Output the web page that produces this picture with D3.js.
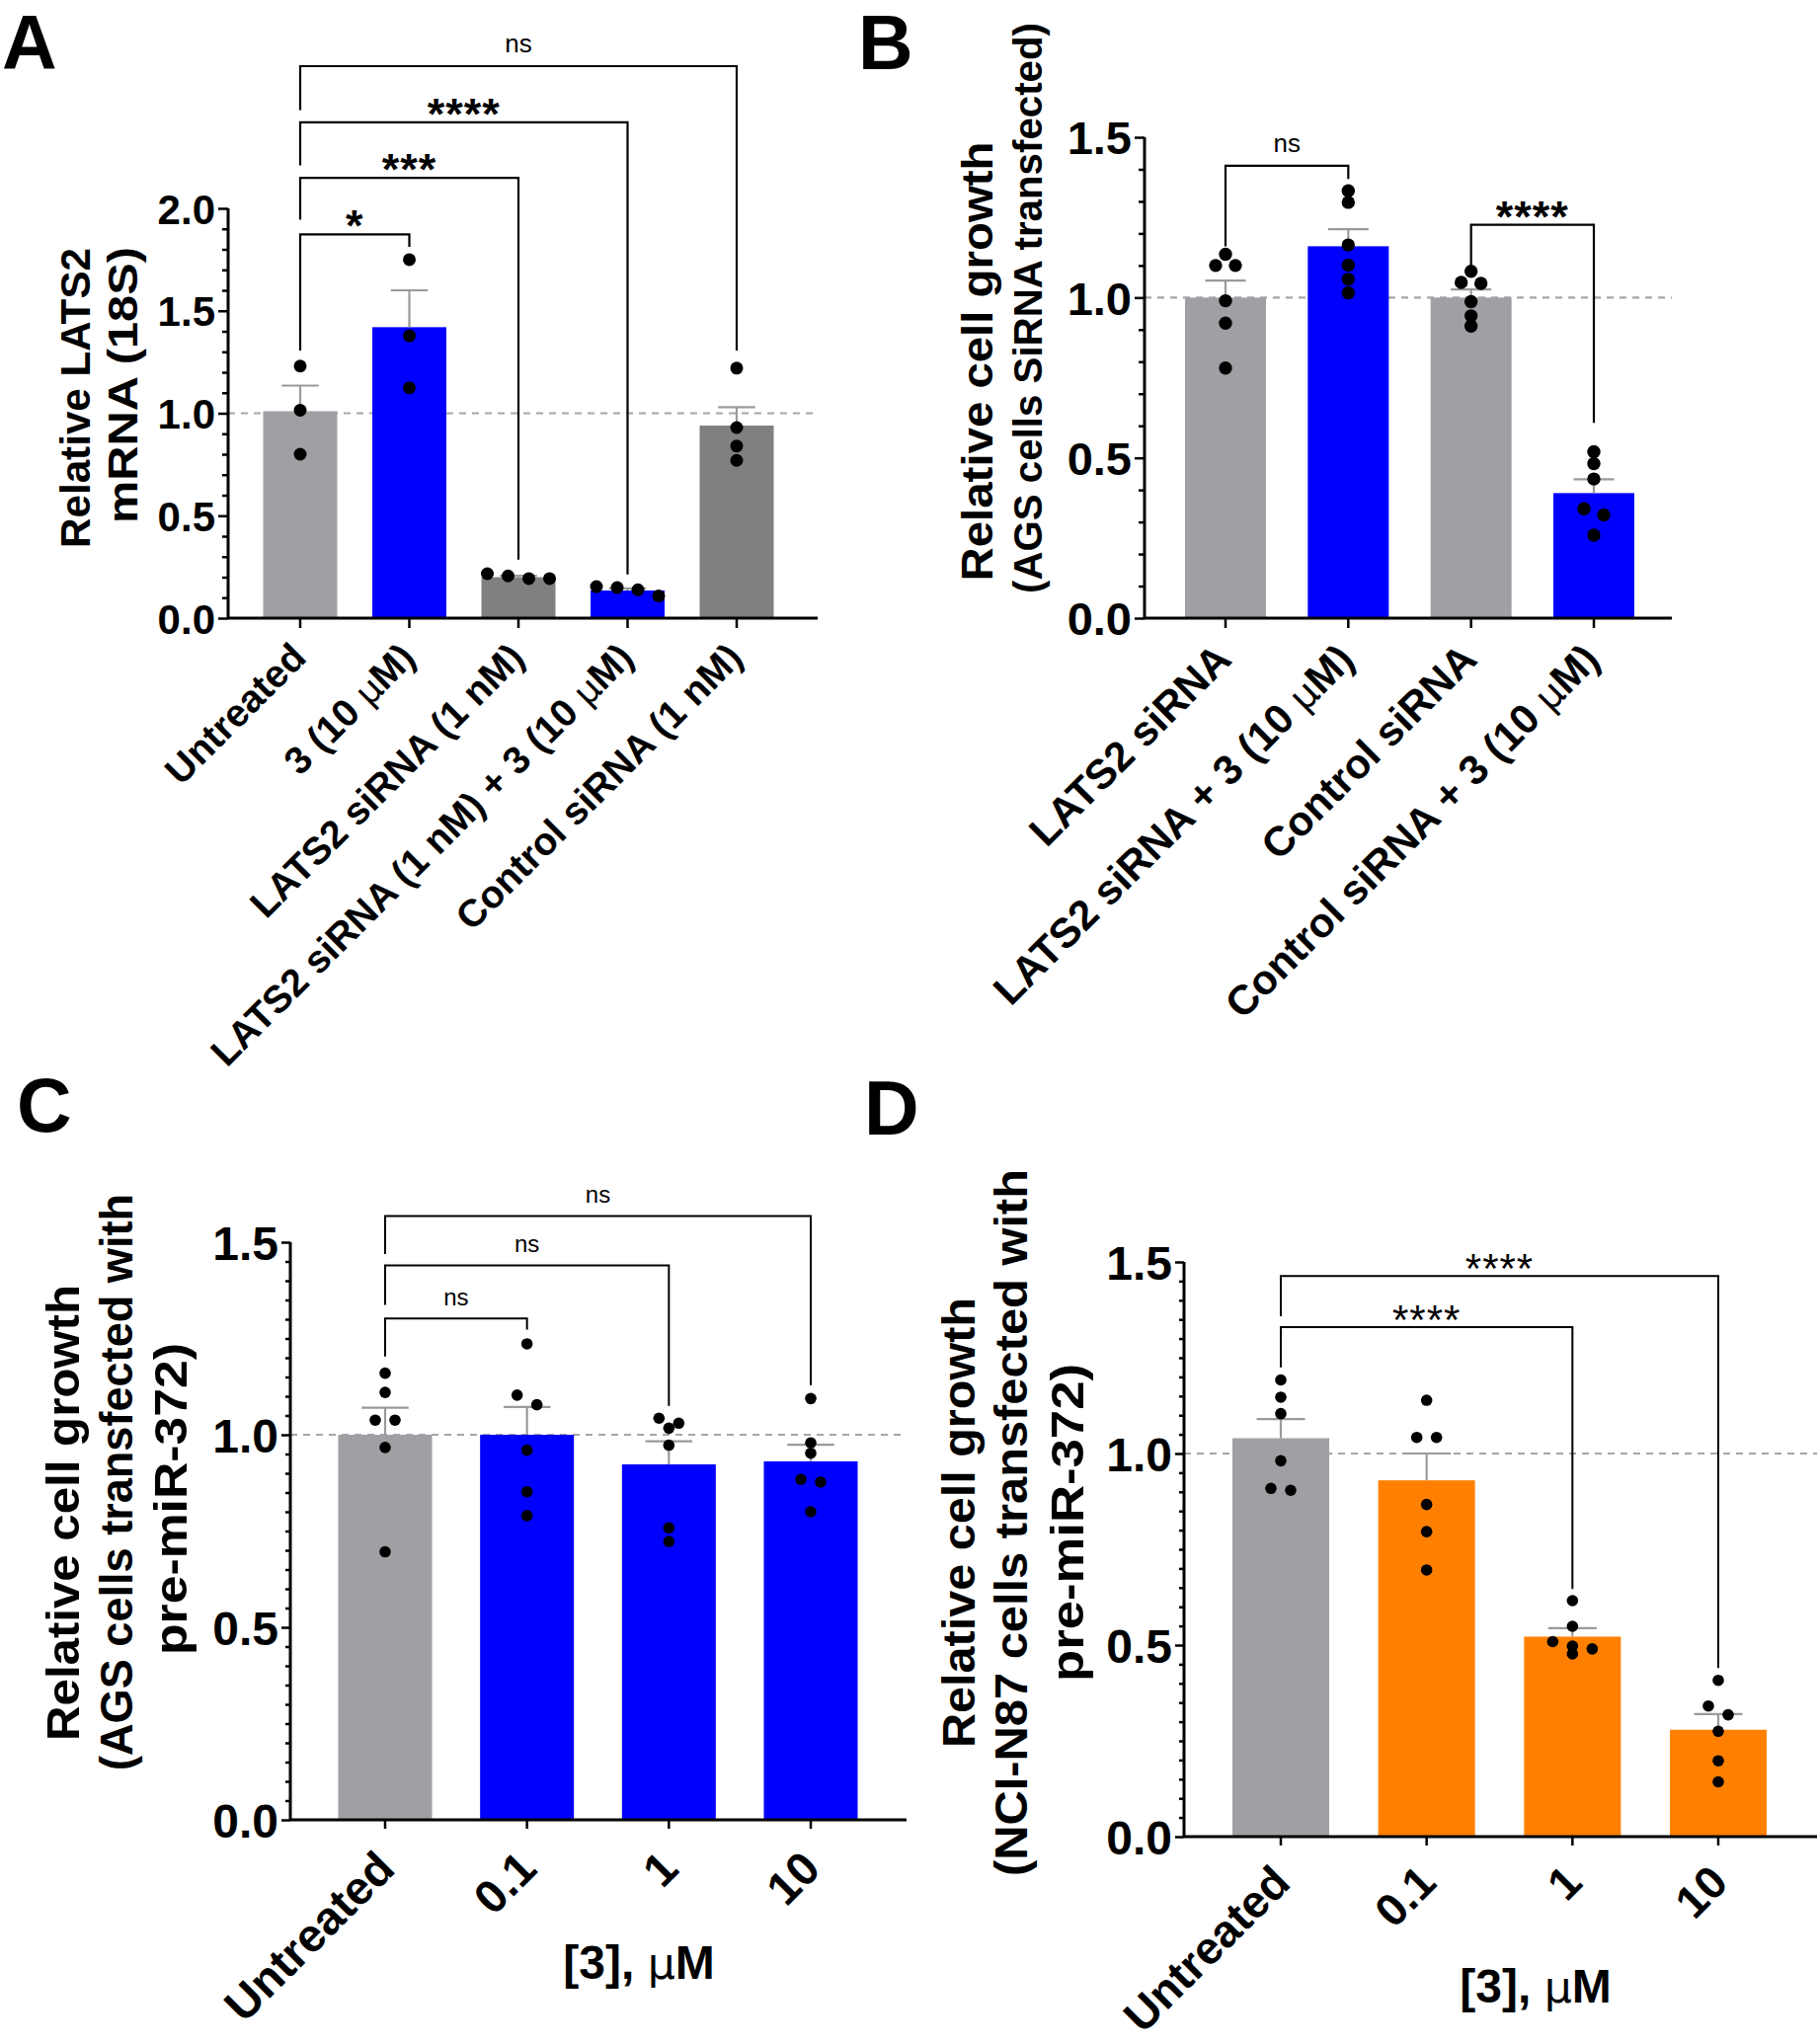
<!DOCTYPE html>
<html><head><meta charset="utf-8">
<script src="https://cdn.jsdelivr.net/npm/d3@7"></script>
<style>
body{margin:0;background:#fff}
svg text{font-family:"Liberation Sans", Arial, sans-serif}
</style></head>
<body><svg id="fig" width="1842" height="2070"></svg>
<script>
// ---------------- DATA ----------------
const catsA = ["Untreated", "3 (10 µM)", "LATS2 siRNA (1 nM)", "LATS2 siRNA (1 nM) + 3 (10 µM)", "Control siRNA (1 nM)"];
const meanA = [1.01, 1.42, 0.20, 0.135, 0.94];
const semA  = [0.125, 0.18, 0.007, 0.01, 0.09];
const ptsA  = [[1.23, 1.015, 0.80], [1.75, 1.378, 1.124], [0.193, 0.217, 0.193, 0.206], [0.108, 0.154, 0.138, 0.149], [1.22, 0.93, 0.84, 0.77]];
const colA  = ["#a0a0a4", "#0000ff", "#808080", "#0000ff", "#808080"];
const sigA  = [
  {from: 0, to: 1, level: 1.873, leftEnd: 1.306, rightEnd: 1.812, label: "*"},
  {from: 0, to: 2, level: 2.149, leftEnd: 1.944, rightEnd: 0.286, label: "***"},
  {from: 0, to: 3, level: 2.42,  leftEnd: 2.21,  rightEnd: 0.213, label: "****"},
  {from: 0, to: 4, level: 2.694, leftEnd: 2.48,  rightEnd: 1.306, label: "ns"}
];

const catsB = ["LATS2 siRNA", "LATS2 siRNA + 3 (10 µM)", "Control siRNA", "Control siRNA + 3 (10 µM)"];
const meanB = [1.00, 1.16, 1.00, 0.39];
const semB  = [0.053, 0.053, 0.025, 0.043];
const ptsB  = [[1.135, 1.10, 1.10, 0.99, 0.92, 0.78], [1.333, 1.297, 1.164, 1.101, 1.057, 1.015], [1.082, 1.047, 1.044, 0.987, 0.943, 0.911], [0.519, 0.482, 0.434, 0.341, 0.322, 0.259]];
const colB  = ["#a0a0a4", "#0000ff", "#a0a0a4", "#0000ff"];
const sigB  = [
  {from: 0, to: 1, level: 1.411, leftEnd: 1.16, rightEnd: 1.37, label: "ns"},
  {from: 2, to: 3, level: 1.227, leftEnd: 1.08, rightEnd: 0.609, label: "****"}
];

const catsC = ["Untreated", "0.1", "1", "10"];
const meanC = [1.00, 1.00, 0.923, 0.931];
const semC  = [0.07, 0.072, 0.06, 0.043];
const ptsC  = [[1.16, 1.11, 1.038, 1.038, 0.967, 0.696], [1.236, 1.103, 1.078, 0.96, 0.852, 0.79], [1.043, 1.03, 1.017, 0.973, 0.758, 0.723], [1.094, 0.979, 0.952, 0.884, 0.877, 0.80]];
const colC  = ["#a0a0a4", "#0000ff", "#0000ff", "#0000ff"];
const sigC  = [
  {from: 0, to: 1, level: 1.302, leftEnd: 1.203, rightEnd: 1.273, label: "ns"},
  {from: 0, to: 2, level: 1.440, leftEnd: 1.337, rightEnd: 1.075, label: "ns"},
  {from: 0, to: 3, level: 1.568, leftEnd: 1.469, rightEnd: 1.129, label: "ns"}
];

const catsD = ["Untreated", "0.1", "1", "10"];
const meanD = [1.04, 0.93, 0.522, 0.279];
const semD  = [0.05, 0.07, 0.022, 0.041];
const ptsD  = [[1.192, 1.147, 1.104, 0.981, 0.909, 0.904], [1.139, 1.042, 1.042, 0.867, 0.796, 0.696], [0.616, 0.549, 0.509, 0.497, 0.490, 0.477], [0.408, 0.341, 0.318, 0.275, 0.198, 0.143]];
const colD  = ["#a0a0a4", "#ff8000", "#ff8000", "#ff8000"];
const sigD  = [
  {from: 0, to: 2, level: 1.33,  leftEnd: 1.225, rightEnd: 0.646, label: "****"},
  {from: 0, to: 3, level: 1.463, leftEnd: 1.358, rightEnd: 0.44,  label: "****"}
];

const majorTicksA = [0, 0.5, 1.0, 1.5, 2.0];
const majorTicksBCD = [0, 0.5, 1.0, 1.5];

// ---------------- DRAWING ----------------
const svg = d3.select("#fig");

function swarm(vals, y, step, rowH) {
  const sorted = vals.slice().sort((a, b) => b - a);
  const rows = [];
  sorted.forEach(v => {
    const last = rows[rows.length - 1];
    if (last && (y(v) - y(last[0])) < rowH) last.push(v); else rows.push([v]);
  });
  const out = [];
  rows.forEach(row => row.forEach((v, i) => out.push({v, dx: (i - (row.length - 1) / 2) * step})));
  return out;
}

function addLabelText(sel, label) {
  const parts = label.split("µ");
  parts.forEach((p, i) => {
    if (i > 0) sel.append("tspan").attr("font-weight", "normal").attr("font-family", "DejaVu Sans, sans-serif").attr("font-size", "0.92em").text("µ");
    sel.append("tspan").text(p);
  });
}

function panel(o) {
  const g = svg.append("g");
  const y = d3.scaleLinear().domain([0, o.yMax]).range([o.y0, o.yTop]);
  const n = o.cats.length;
  const step = (o.c1 - o.c0) / (n - 1);
  const pad = 1 - o.bw / step;
  const x = d3.scaleBand().domain(o.cats).range([o.c0 - step / 2, o.c1 + step / 2]).paddingInner(pad).paddingOuter(pad / 2);
  const cx = c => x(c) + x.bandwidth() / 2;

  // reference dashed line
  g.append("line").attr("x1", o.x0).attr("x2", o.xEnd).attr("y1", y(1)).attr("y2", y(1))
    .attr("stroke", "#a6a6a6").attr("stroke-width", 2.2).attr("stroke-dasharray", "7,6");

  // bars
  g.selectAll("rect.bar").data(o.cats).join("rect")
    .attr("x", c => x(c)).attr("width", x.bandwidth())
    .attr("y", (c, i) => y(o.mean[i])).attr("height", (c, i) => o.y0 - y(o.mean[i]))
    .attr("fill", (c, i) => o.col[i]);

  // error bars (SEM, upper)
  const cap = x.bandwidth() / 4;
  o.cats.forEach((c, i) => {
    const top = y(o.mean[i] + o.sem[i]);
    g.append("line").attr("x1", cx(c)).attr("x2", cx(c)).attr("y1", y(o.mean[i])).attr("y2", top)
      .attr("stroke", "#9a9a9a").attr("stroke-width", 2.2);
    g.append("line").attr("x1", cx(c) - cap).attr("x2", cx(c) + cap).attr("y1", top).attr("y2", top)
      .attr("stroke", "#9a9a9a").attr("stroke-width", 2.2);
  });

  // points
  o.cats.forEach((c, i) => {
    const sw = swarm(o.pts[i], y, o.dotStep, 10);
    g.selectAll(null).data(sw).join("circle")
      .attr("cx", d => cx(c) + d.dx).attr("cy", d => y(d.v)).attr("r", o.r).attr("fill", "#000");
  });

  // y axis
  const minorVals = d3.range(0, o.yMax + 1e-9, o.minor).filter(v => Math.abs(v / 0.5 - Math.round(v / 0.5)) > 1e-6);
  g.append("g").attr("transform", `translate(${o.x0},0)`)
    .call(d3.axisLeft(y).tickValues(minorVals).tickSize(o.minorLen).tickFormat(""))
    .call(a => a.select(".domain").remove())
    .call(a => a.selectAll("line").attr("stroke", "#000").attr("stroke-width", 2.5));
  const ya = g.append("g").attr("transform", `translate(${o.x0},0)`)
    .call(d3.axisLeft(y).tickValues(o.major).tickSize(o.majorLen).tickPadding(3).tickFormat(d3.format(".1f")));
  ya.select(".domain").attr("stroke", "#000").attr("stroke-width", 3).attr("d", `M0,${o.y0}V${o.yTop}`);
  ya.selectAll("line").attr("stroke", "#000").attr("stroke-width", 2.5);
  ya.selectAll("text").attr("font-size", o.tickFont).attr("font-weight", "bold").attr("fill", "#000")
    .attr("font-family", "Liberation Sans, Arial, sans-serif").attr("dy", "0.36em");

  // x axis
  const xa = g.append("g").attr("transform", `translate(0,${o.y0})`)
    .call(d3.axisBottom(x).tickSize(o.majorLen).tickFormat(""));
  xa.select(".domain").attr("stroke", "#000").attr("stroke-width", 3).attr("d", `M${o.x0},0H${o.xEnd}`);
  xa.selectAll("line").attr("stroke", "#000").attr("stroke-width", 2.5);

  // category labels, rotated
  o.cats.forEach((c, i) => {
    const t = g.append("text")
      .attr("transform", `translate(${cx(c) + o.lblDx},${o.y0 + o.lblDy}) rotate(-45)`)
      .attr("text-anchor", "end").attr("font-size", o.lblFont).attr("font-weight", "bold").attr("fill", "#000");
    addLabelText(t, c);
  });

  // significance brackets
  o.sig.forEach(s => {
    const xa_ = cx(o.cats[s.from]), xb = cx(o.cats[s.to]);
    g.append("path").attr("d", `M${xa_},${y(s.leftEnd)}V${y(s.level)}H${xb}V${y(s.rightEnd)}`)
      .attr("fill", "none").attr("stroke", "#000").attr("stroke-width", o.brW);
    const isNs = s.label === "ns";
    g.append("text").attr("x", (xa_ + xb) / 2)
      .attr("y", y(s.level) + (isNs ? -o.nsOff : o.starOff))
      .attr("text-anchor", "middle")
      .attr("font-size", isNs ? o.nsFont : o.starFont)
      .attr("font-weight", isNs ? "normal" : o.starWeight)
      .attr("letter-spacing", isNs ? 0 : o.starSpacing)
      .attr("fill", "#000").text(s.label);
  });

  // y title (lines fitted to the reference's line lengths)
  o.title.forEach(t => {
    g.append("text").attr("transform", `translate(${t.x},${t.y}) rotate(-90)`)
      .attr("text-anchor", "middle").attr("font-size", t.font || o.titleFont).attr("font-weight", "bold").attr("fill", "#000")
      .attr("textLength", t.len).attr("lengthAdjust", "spacingAndGlyphs")
      .text(t.text);
  });

  // x title
  if (o.xTitle) {
    const xt = g.append("text").attr("x", o.xTitle.x).attr("y", o.xTitle.y).attr("text-anchor", "middle")
      .attr("font-size", o.xTitleFont).attr("font-weight", "bold").attr("fill", "#000");
    addLabelText(xt, o.xTitle.text);
  }

  // panel letter
  svg.append("text").attr("x", o.letter.x).attr("y", o.letter.y).attr("font-size", 77)
    .attr("font-weight", "bold").attr("fill", "#000").text(o.letter.t);
}

panel({cats: catsA, mean: meanA, sem: semA, pts: ptsA, col: colA, sig: sigA,
  x0: 231, xEnd: 828, y0: 626, yTop: 211, yMax: 2.0, c0: 304, c1: 746, bw: 75,
  major: majorTicksA, minor: 0.1, majorLen: 10, minorLen: 6, tickFont: 42,
  r: 6.5, dotStep: 21, lblDx: 8, lblDy: 42, lblFont: 39,
  brW: 2.2, nsOff: 14, nsFont: 26, starOff: 7, starFont: 45, starWeight: "bold", starSpacing: 1,
  titleFont: 43, title: [{x: 91, y: 403, len: 304, text: "Relative LATS2"}, {x: 139, y: 390, len: 280, text: "mRNA (18S)"}],
  letter: {x: 2, y: 70, t: "A"}});

panel({cats: catsB, mean: meanB, sem: semB, pts: ptsB, col: colB, sig: sigB,
  x0: 1159, xEnd: 1693, y0: 626, yTop: 139, yMax: 1.5, c0: 1241, c1: 1614, bw: 82,
  major: majorTicksBCD, minor: 0.1, majorLen: 10, minorLen: 6, tickFont: 47,
  r: 6.7, dotStep: 20, lblDx: 8, lblDy: 44, lblFont: 42,
  brW: 2.2, nsOff: 14, nsFont: 26, starOff: 7, starFont: 45, starWeight: "bold", starSpacing: 1,
  titleFont: 45, title: [{x: 1005, y: 366, len: 445, text: "Relative cell growth"}, {x: 1055, y: 312, len: 578, font: 41, text: "(AGS cells SiRNA transfected)"}],
  letter: {x: 869, y: 70, t: "B"}});

panel({cats: catsC, mean: meanC, sem: semC, pts: ptsC, col: colC, sig: sigC,
  x0: 294, xEnd: 918, y0: 1843, yTop: 1258, yMax: 1.5, c0: 390, c1: 821, bw: 95,
  major: majorTicksBCD, minor: 0.05, majorLen: 9, minorLen: 5, tickFont: 48,
  r: 5.8, dotStep: 20, lblDx: 12, lblDy: 52, lblFont: 47,
  brW: 2, nsOff: 13, nsFont: 24, starOff: 7, starFont: 42, starWeight: "normal", starSpacing: 0,
  titleFont: 47, title: [{x: 80, y: 1532, len: 462, text: "Relative cell growth"}, {x: 134, y: 1501, len: 584, text: "(AGS cells transfected with"}, {x: 189, y: 1518, len: 316, text: "pre-miR-372)"}],
  xTitle: {x: 647, y: 2004, text: "[3], µM"}, xTitleFont: 48,
  letter: {x: 17, y: 1146, t: "C"}});

panel({cats: catsD, mean: meanD, sem: semD, pts: ptsD, col: colD, sig: sigD,
  x0: 1199, xEnd: 1840, y0: 1860, yTop: 1278, yMax: 1.5, c0: 1297, c1: 1740, bw: 98,
  major: majorTicksBCD, minor: 0.05, majorLen: 9, minorLen: 5, tickFont: 48,
  r: 5.8, dotStep: 20, lblDx: 12, lblDy: 49, lblFont: 46,
  brW: 2, nsOff: 13, nsFont: 24, starOff: 7, starFont: 42, starWeight: "normal", starSpacing: 1,
  titleFont: 47, title: [{x: 987, y: 1542, len: 456, text: "Relative cell growth"}, {x: 1040, y: 1542, len: 716, text: "(NCI-N87 cells transfected with"}, {x: 1097, y: 1542, len: 322, text: "pre-miR-372)"}],
  xTitle: {x: 1555, y: 2028, text: "[3], µM"}, xTitleFont: 48,
  letter: {x: 875, y: 1149, t: "D"}});
</script></body></html>
